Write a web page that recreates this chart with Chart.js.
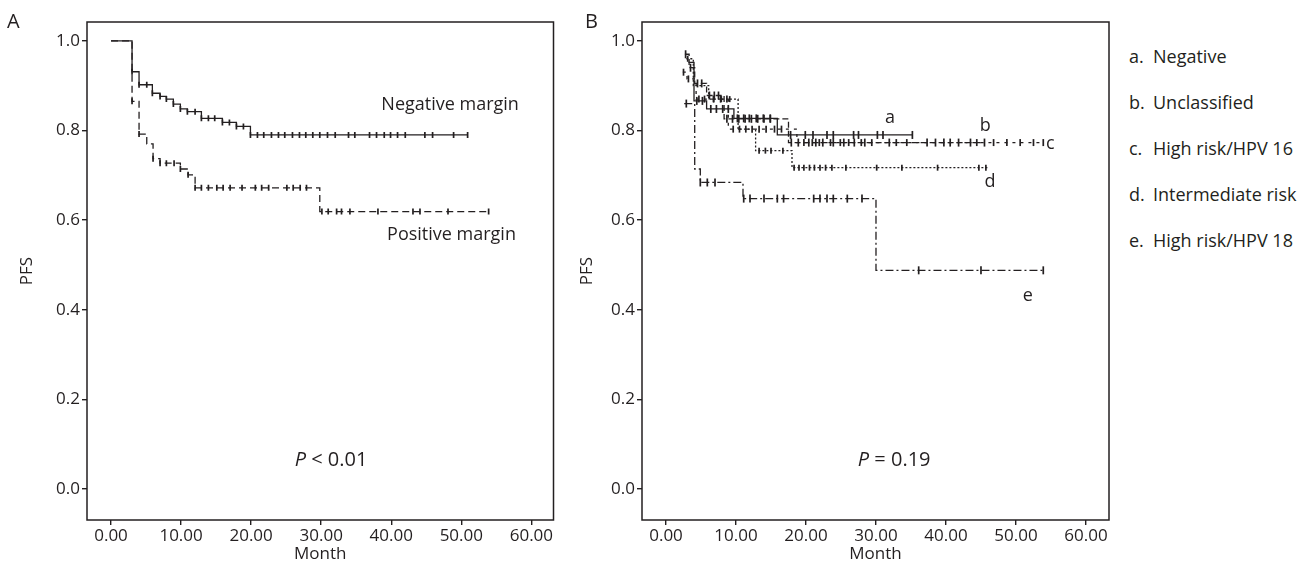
<!DOCTYPE html>
<html>
<head>
<meta charset="utf-8">
<script src="https://cdn.jsdelivr.net/npm/chart.js@4.4.1/dist/chart.umd.min.js"></script>
<style>
  body { margin: 0; background: #fff; width: 1316px; height: 567px; position: relative; overflow: hidden;
         font-family: "Open Sans", sans-serif; color: #231f20; }
  .panel { position: absolute; top: 0; width: 560px; height: 567px; }
  .tag { position: absolute; font-size: 20px; line-height: 24px; }
  .key { position: absolute; left: 1129px; font-size: 18px; line-height: 22px; white-space: nowrap; }
  .key span { display: inline-block; width: 24px; }
</style>
</head>
<body>
<div class="panel" style="left:0"><canvas id="chartA"></canvas></div>
<div class="panel" style="left:560px"><canvas id="chartB"></canvas></div>
<div class="tag" style="left:7px;top:9px">A</div>
<div class="tag" style="left:585px;top:9px">B</div>
<div class="key" style="top:45px"><span>a.</span>Negative</div>
<div class="key" style="top:91px"><span>b.</span>Unclassified</div>
<div class="key" style="top:137px"><span>c.</span>High risk/HPV 16</div>
<div class="key" style="top:183px"><span>d.</span>Intermediate risk</div>
<div class="key" style="top:229px"><span>e.</span>High risk/HPV 18</div>
<script>
// ---- data: step times (month), survival after each step, censored times ----
var monthTicks = [0, 10, 20, 30, 40, 50, 60];
var pfsTicks = [0, 0.2, 0.4, 0.6, 0.8, 1.0];

// panel A
var negTimes = [0, 3.0, 4.0, 5.9, 7.0, 7.9, 8.9, 9.9, 10.9, 12.9, 15.9, 17.9, 19.9, 50.9];
var negSurv  = [1.0, 0.931, 0.902, 0.883, 0.876, 0.870, 0.859, 0.848, 0.842, 0.827, 0.818, 0.809, 0.790, 0.790];
var negCens  = [3.0, 4.0, 5.1, 5.9, 7.0, 7.9, 8.9, 9.9, 10.9, 12.0, 12.9, 13.9, 14.8, 15.9, 16.9, 17.9,
                18.9, 19.9, 20.9, 21.8, 22.9, 23.9, 24.8, 25.9, 26.9, 27.8, 28.8, 29.8, 30.9, 32.0,
                33.9, 34.8, 36.9, 37.9, 39.0, 39.9, 40.9, 42.0, 44.8, 45.9, 48.9, 50.9];

var posTimes = [0, 3.0, 4.0, 5.1, 6.0, 7.0, 9.9, 11.0, 12.0, 29.8, 53.9];
var posSurv  = [1.0, 0.865, 0.792, 0.770, 0.737, 0.727, 0.714, 0.701, 0.672, 0.619, 0.619];
var posCens  = [3.0, 4.0, 6.0, 7.0, 7.9, 9.0, 9.9, 11.0, 12.0, 12.9, 13.9, 15.1, 16.0, 17.0, 18.7,
                20.6, 21.5, 22.5, 25.1, 26.0, 27.0, 27.9, 30.1, 31.0, 32.2, 32.9, 34.1, 38.1,
                43.1, 44.1, 48.1, 53.9];

// panel B
var aTimes = [3.2, 4.0, 5.8, 9.7, 15.9, 35.2];
var aSurv  = [0.952, 0.866, 0.848, 0.827, 0.790, 0.790];
var aCens  = [4.4, 5.2, 6.4, 7.2, 8.1, 8.9, 10.2, 11.1, 11.9, 12.9, 13.9, 14.9, 17.8, 19.9, 21.0,
              23.0, 23.9, 26.8, 27.5, 30.2, 31.0, 35.2];

var bTimes = [2.7, 3.3, 4.1, 5.8, 8.3, 17.5, 45.5];
var bSurv  = [0.97, 0.94, 0.905, 0.878, 0.826, 0.773, 0.773];
var bCens  = [2.8, 3.5, 4.5, 5.1, 6.2, 6.9, 7.5, 8.7, 9.5, 10.4, 11.3, 12.2, 13.1, 14.0, 14.9, 17.9,
              18.9, 20.4, 21.4, 22.4, 23.9, 25.4, 26.9, 28.4, 31.9, 37.3, 38.5, 39.7, 40.6, 41.8,
              43.5, 45.5];

var cTimes = [2.4, 3.0, 4.3, 8.9, 18.7, 53.9];
var cSurv  = [0.93, 0.915, 0.87, 0.803, 0.773, 0.773];
var cCens  = [2.5, 3.2, 4.7, 5.5, 6.8, 7.8, 8.7, 9.6, 10.5, 11.4, 12.3, 13.3, 14.3, 15.5, 16.5, 19.7,
              20.9, 21.9, 23.5, 24.9, 26.1, 27.9, 29.4, 32.9, 34.4, 44.4, 46.8, 48.7, 50.6, 52.5, 53.9];

var dTimes = [2.9, 3.9, 6.1, 10.3, 12.8, 18.0, 46.1];
var dSurv  = [0.96, 0.90, 0.87, 0.803, 0.755, 0.717, 0.717];
var dCens  = [3.1, 6.8, 7.9, 9.1, 13.3, 14.2, 15.0, 16.7, 18.3, 19.0, 19.7, 20.5, 21.2, 22.0, 22.8,
              23.7, 25.7, 30.1, 33.7, 38.8, 44.7, 45.7];

var eTimes = [2.6, 4.1, 4.9, 11.0, 30.0, 53.9];
var eSurv  = [0.86, 0.714, 0.684, 0.648, 0.488, 0.488];
var eCens  = [2.9, 4.9, 5.9, 7.0, 11.1, 12.0, 14.0, 15.9, 16.8, 21.1, 22.0, 23.0, 23.9, 25.9, 28.0,
              36.1, 45.0, 53.9];

var ink = '#231f20';
var font = { family: '"Open Sans", sans-serif', size: 17 };

function stepData(times, surv) {
    return times.map(function (t, i) { return { x: t, y: surv[i] }; });
}

function survAt(times, surv, t) {
    var s = surv[0];
    for (var i = 0; i < times.length; i++) {
        if (times[i] <= t + 1e-6) s = surv[i];
    }
    return s;
}

function curve(times, surv, cens, dash, markSize) {
    return [{
        data: stepData(times, surv),
        stepped: 'before',
        borderColor: ink,
        borderWidth: 1.3,
        borderDash: dash,
        pointRadius: 0,
        fill: false
    }, {
        data: cens.map(function (t) { return { x: t, y: survAt(times, surv, t) }; }),
        showLine: false,
        pointStyle: 'line',
        rotation: 90,
        pointRadius: markSize,
        pointBorderWidth: 1.7,
        pointBorderColor: ink,
        pointBackgroundColor: ink
    }];
}

//box round the plot area plus the text notes
var frame = {
    id: 'frame',
    afterDraw: function (chart) {
        var ctx = chart.ctx, a = chart.chartArea;
        var xs = chart.scales.x, ys = chart.scales.y;
        ctx.save();
        ctx.strokeStyle = ink;
        ctx.lineWidth = 1.5;
        ctx.strokeRect(a.left, a.top, a.right - a.left, a.bottom - a.top);
        ctx.fillStyle = ink;
        ctx.textBaseline = 'middle';
        ctx.textAlign = 'center';
        (chart.options.notes || []).forEach(function (n) {
            var px = xs.getPixelForValue(n.x), py = ys.getPixelForValue(n.y);
            if (n.pItalic) {
                ctx.font = 'italic 20px "Open Sans", sans-serif';
                var w1 = ctx.measureText('P').width;
                ctx.font = '20px "Open Sans", sans-serif';
                var w2 = ctx.measureText(n.text).width;
                var left = px - (w1 + w2) / 2;
                ctx.textAlign = 'left';
                ctx.font = 'italic 20px "Open Sans", sans-serif';
                ctx.fillText('P', left, py);
                ctx.font = '20px "Open Sans", sans-serif';
                ctx.fillText(n.text, left + w1, py);
                ctx.textAlign = 'center';
            } else {
                ctx.font = '18px "Open Sans", sans-serif';
                ctx.fillText(n.text, px, py);
            }
        });
        ctx.restore();
    }
};

function makeChart(id, datasets, xMin, xMax, padRight, yWidth, notes) {
    var ctx = document.getElementById(id).getContext('2d');
    return new Chart(ctx, {
        type: 'line',
        data: { datasets: datasets },
        options: {
            responsive: true,
            maintainAspectRatio: false,
            animation: false,
            notes: notes,
            layout: { padding: { top: 22, right: padRight, bottom: 3, left: 0 } },
            plugins: { legend: { display: false }, tooltip: { enabled: false } },
            scales: {
                x: {
                    type: 'linear',
                    min: xMin,
                    max: xMax,
                    afterBuildTicks: function (s) { s.ticks = monthTicks.map(function (v) { return { value: v }; }); },
                    afterFit: function (s) { s.height = 44; },
                    ticks: { font: font, color: ink, padding: 1, maxRotation: 0, autoSkip: false,
                             callback: function (v) { return v.toFixed(2); } },
                    grid: { drawOnChartArea: false, tickLength: 5, color: ink, lineWidth: 1.4 },
                    border: { display: false },
                    title: { display: true, text: 'Month', font: font, color: ink, padding: { top: 0, bottom: 0 } }
                },
                y: {
                    min: -0.069,
                    max: 1.042,
                    afterBuildTicks: function (s) { s.ticks = pfsTicks.map(function (v) { return { value: v }; }); },
                    afterFit: function (s) { s.width = yWidth; },
                    ticks: { font: font, color: ink, padding: 2,
                             callback: function (v) { return v.toFixed(1); } },
                    grid: { drawOnChartArea: false, tickLength: 5, color: ink, lineWidth: 1.4 },
                    border: { display: false },
                    title: { display: true, text: 'PFS', font: font, color: ink, padding: { top: 17, bottom: 0 } }
                }
            }
        },
        plugins: [frame]
    });
}

var dsA = [].concat(
    curve(negTimes, negSurv, negCens, [], 3),
    curve(posTimes, posSurv, posCens, [7, 4], 3)
);
makeChart('chartA', dsA, -3.43, 63.16, 6.5, 87, [
    { text: 'Negative margin', x: 48.4, y: 0.858 },
    { text: 'Positive margin', x: 48.6, y: 0.568 },
    { text: ' < 0.01', x: 31.4, y: 0.064, pItalic: true }
]);

var dsB = [].concat(
    curve(aTimes, aSurv, aCens, [], 4),
    curve(bTimes, bSurv, bCens, [6, 3], 4),
    curve(cTimes, cSurv, cCens, [3, 5], 3.5),
    curve(dTimes, dSurv, dCens, [2, 2], 3),
    curve(eTimes, eSurv, eCens, [8, 3, 2, 3], 4)
);
makeChart('chartB', dsB, -3.43, 63.29, 11, 82, [
    { text: 'a', x: 32.0, y: 0.828 },
    { text: 'b', x: 45.6, y: 0.811 },
    { text: 'c', x: 54.9, y: 0.769 },
    { text: 'd', x: 46.3, y: 0.685 },
    { text: 'e', x: 51.7, y: 0.432 },
    { text: ' = 0.19', x: 32.6, y: 0.064, pItalic: true }
]);
</script>
</body>
</html>
